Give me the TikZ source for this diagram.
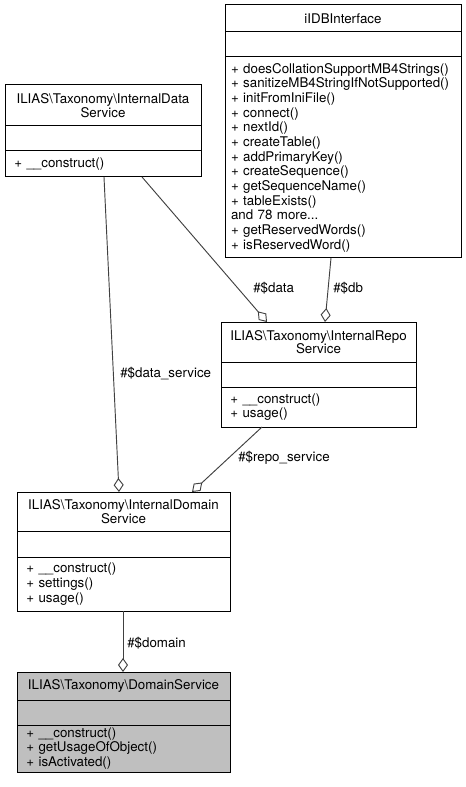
\documentclass[tikz,border=0pt]{standalone}
\usepackage{fontspec}
\setmainfont{TeX Gyre Heros}
\usetikzlibrary{positioning,
        calc,
        shapes,
        arrows.meta}

\newcommand{\bs}{\textbackslash}
\hyphenpenalty=10000

\tikzset{
  boxpart/.style={draw=black,line width=0.75pt,inner sep=0pt,outer sep=0pt,font=\fontsize{10}{10}\selectfont},
  classhead/.style={boxpart,align=center},
  classbody/.style={boxpart,align=left,inner xsep=7pt,font=\fontsize{10}{11}\selectfont},
  assoc/.style={draw=black!75,line width=0.7pt,-{Diamond[open,length=10.5pt,width=7.5pt]}},
  edgelabel/.style={anchor=west,inner sep=0pt,font=\fontsize{10}{10}\selectfont}
}

\begin{document}
\begin{tikzpicture}[x=0.75pt,y=-0.75pt]
            \useasboundingbox (0,0) rectangle (466,787);

            % iIDBInterface
            \node [classhead,anchor=north west,text width=177pt,minimum height=20.25pt] (dbT) at (225,5) {iIDBInterface};
            \node [classbody,inner xsep=4.5pt,text width=168pt,minimum height=18.75pt,below=0pt of dbT] (dbA) {};
            \node [classbody,inner xsep=4.5pt,text width=168pt,minimum height=150.75pt,below=0pt of dbA] (dbM) {+ doesCollationSupportMB4Strings()\\+ sanitizeMB4StringIfNotSupported()\\+ initFromIniFile()\\+ connect()\\+ nextId()\\+ createTable()\\+ addPrimaryKey()\\+ createSequence()\\+ getSequenceName()\\+ tableExists()\\and 78 more...\\+ getReservedWords()\\+ isReservedWord()};

            % InternalDataService
            \node [classhead,anchor=north west,text width=147pt,minimum height=30.75pt] (dataT) at (5,85) {ILIAS\bs Taxonomy\bs InternalData\\Service};
            \node [classbody,text width=133pt,minimum height=18.75pt,below=0pt of dataT] (dataA) {};
            \node [classbody,text width=133pt,minimum height=19.5pt,below=0pt of dataA] (dataM) {+ \_\_construct()};

            % InternalRepoService
            \node [classhead,anchor=north west,text width=146.25pt,minimum height=30pt] (repoT) at (221,322) {ILIAS\bs Taxonomy\bs InternalRepo\\Service};
            \node [classbody,text width=132.25pt,minimum height=18.75pt,below=0pt of repoT] (repoA) {};
            \node [classbody,text width=132.25pt,minimum height=30pt,below=0pt of repoA] (repoM) {+ \_\_construct()\\+ usage()};

            % InternalDomainService
            \node [classhead,anchor=north west,text width=159.75pt,minimum height=29.25pt] (domT) at (17,492) {ILIAS\bs Taxonomy\bs InternalDomain\\Service};
            \node [classbody,text width=145.75pt,minimum height=19.5pt,below=0pt of domT] (domA) {};
            \node [classbody,text width=145.75pt,minimum height=40.5pt,below=0pt of domA] (domM) {+ \_\_construct()\\+ settings()\\+ usage()};

            % DomainService
            \node [classhead,anchor=north west,fill=black!25,text width=159.75pt,minimum height=21pt] (svcT) at (17,672) {ILIAS\bs Taxonomy\bs DomainService};
            \node [classbody,fill=black!25,text width=145.75pt,minimum height=18.75pt,below=0pt of svcT] (svcA) {};
            \node [classbody,fill=black!25,text width=145.75pt,minimum height=35.25pt,below=0pt of svcA] (svcM) {+ \_\_construct()\\+ getUsageOfObject()\\+ isActivated()};

            \draw [assoc] ($(dataM.south west)+(99,0)$) -- ($(domT.north west)+(102,0)$);
            \draw [assoc] ($(dataM.south west)+(137,0)$) -- ($(repoT.north west)+(46,0)$);
            \draw [assoc] ($(dbM.south west)+(106,0)$) -- ($(repoT.north west)+(104,0)$);
            \draw [assoc] ($(repoM.south west)+(41,0)$) -- ($(domT.north west)+(175,0)$);
            \draw [assoc] ($(domM.south west)+(106,0)$) -- ($(svcT.north west)+(106,0)$);

            \node [edgelabel] (lbldata) at (253,288) {\#\$data};
            \node [edgelabel] (lbldb) at (333,288) {\#\$db};
            \node [edgelabel] (lbldataservice) at (120,374) {\#\$data\_service};
            \node [edgelabel] (lblrepo) at (238,458) {\#\$repo\_service};
            \node [edgelabel] (lbldomain) at (127,643) {\#\$domain};
\end{tikzpicture}
\end{document}
